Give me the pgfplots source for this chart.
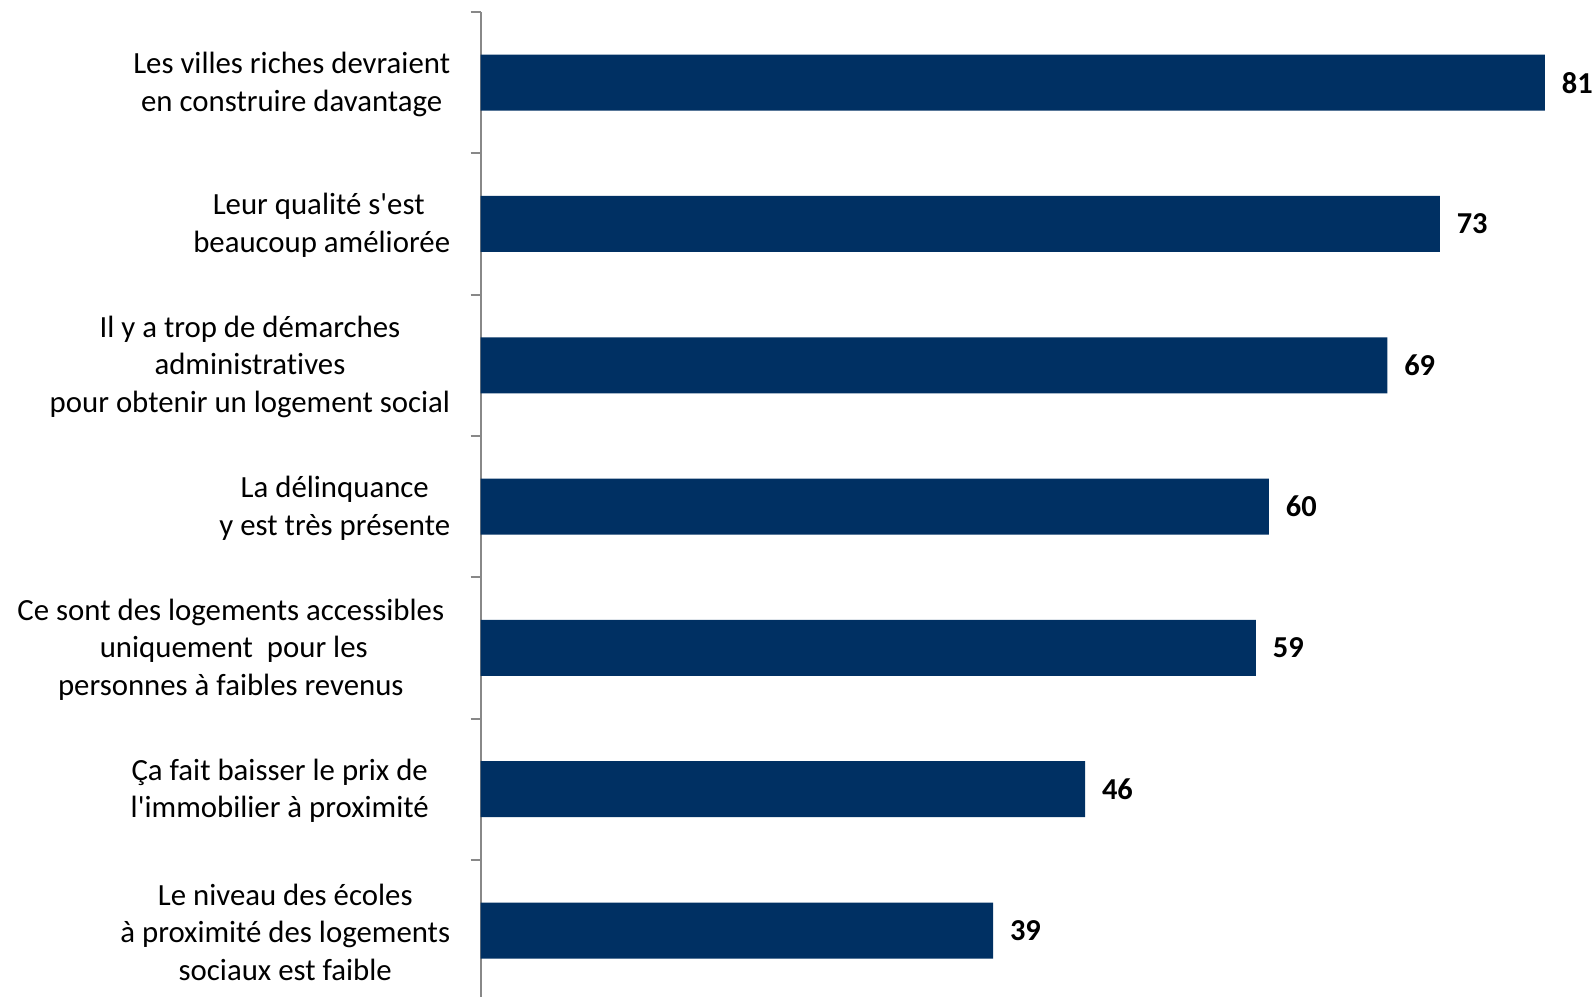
\documentclass[border=0pt]{standalone}
\usepackage{pgfplots}
\pgfplotsset{compat=1.18}
\usepackage{fontspec}
\setmainfont{Carlito}[Ligatures={TeX,NoCommon}]
\definecolor{barblue}{HTML}{003063}
\definecolor{axgray}{HTML}{888888}
\begin{document}
\begin{tikzpicture}
\useasboundingbox (0,0) rectangle (796.5pt,-498pt);
\begin{axis}[
 at={(240.25pt,-6pt)}, anchor=north west,
 scale only axis, width=558.5pt, height=494.6pt,
 xbar, bar width=28pt,
 xmin=0, xmax=85, ymin=0.5, ymax=7.5, y dir=reverse,
 hide x axis, axis y line*=left,
 axis line style={axgray, line width=1pt},
 ytick={1,...,7},
 yticklabels={
  {Les villes riches devraient\\en construire davantage},
  {Leur qualité s\textquotesingle est\hspace*{3pt}\\beaucoup améliorée},
  {Il y a trop de démarches\\administratives\\pour obtenir un logement social},
  {La délinquance\\y est très présente},
  {Ce sont des logements accessibles\hspace*{3pt}\\uniquement\ \ pour les\hspace*{3pt}\\personnes à faibles revenus\hspace*{3pt}},
  {Ça fait baisser le prix de\hspace*{10.7pt}\\l\textquotesingle immobilier à proximité\hspace*{10.7pt}},
  {Le niveau des écoles\\à proximité des logements\\sociaux est faible}},
 major tick length=0pt,
 extra y ticks={0.5,1.5,...,7.5}, extra y tick labels={},
 extra y tick style={major tick length=5pt, tick align=outside, tick style={axgray, line width=1pt}},
 yticklabel style={align=center, font=\fontsize{15.4}{18.8}\selectfont, inner sep=0pt, xshift=-15pt, yshift=-0.8pt},
 /pgf/number format/assume math mode=true,
 nodes near coords, nodes near coords style={anchor=west, inner sep=0pt, xshift=8.3pt, font=\fontsize{15.2}{18}\selectfont\bfseries, black},
 clip=false,
]
\addplot[fill=barblue, draw=none] coordinates {(81,1) (73,2) (69,3) (60,4) (59,5) (46,6) (39,7)};
\end{axis}
\end{tikzpicture}
\end{document}
